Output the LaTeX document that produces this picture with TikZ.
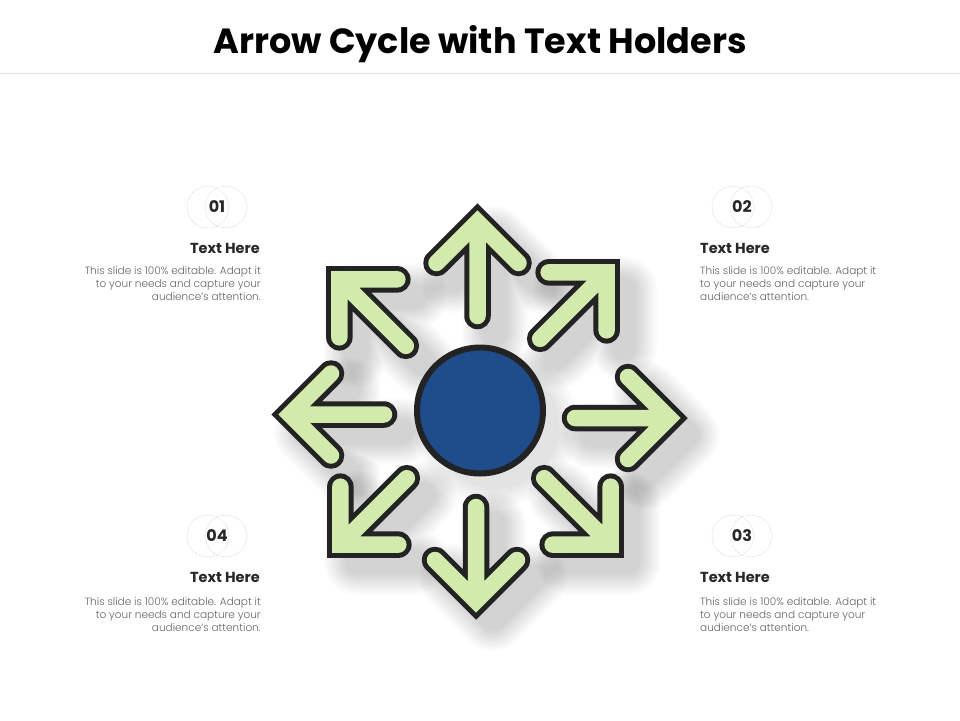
\documentclass[tikz,border=0pt]{standalone}
\usepackage{fontspec}
\setmainfont{Poppins}
\newfontfamily\lightfont{Poppins Light}
\usetikzlibrary{calc}
\definecolor{agreen}{RGB}{210,234,172}
\definecolor{aline}{RGB}{35,35,35}
\definecolor{ablue}{RGB}{31,77,139}
\definecolor{txtgrey}{RGB}{100,100,100}
\definecolor{headgrey}{RGB}{40,40,40}
\definecolor{ringgrey}{RGB}{205,205,205}
\definecolor{rulegrey}{RGB}{225,225,225}
\begin{document}
\begin{tikzpicture}[x=1pt,y=1pt,
  arrshadow/.pic={
    \foreach \w in {66,62,...,26}{
      \draw[line width=\w pt, black, opacity=0.014, line cap=round, line join=round]
        (95,0) -- (189,0) (148,41) -- (189,0) -- (148,-41);
    }
  },
  arrbody/.pic={
    \draw[line width=26.5pt, aline, line cap=round, line join=miter]
      (95,0) -- (184,0) (148,41) -- (189,0) -- (148,-41);
    \draw[line width=16.5pt, agreen, line cap=round, line join=miter]
      (95,0) -- (184,0) (148,41) -- (189,0) -- (148,-41);
  },
  ring/.style={circle, draw=ringgrey, densely dotted, line width=0.6pt, minimum size=42pt, inner sep=0pt},
  numtxt/.style={font=\fontsize{16}{18}\selectfont\bfseries, text=headgrey, inner sep=0pt},
  headtxt/.style={font=\fontsize{14.5}{17}\selectfont\bfseries, text=headgrey, inner sep=0pt},
  bodytxt/.style={font=\lightfont\fontsize{10.5}{13}\selectfont, text=txtgrey, inner sep=0pt},
]
\useasboundingbox (0,0) rectangle (960,-720);
\fill[white] (0,0) rectangle (960,-720);

% title
\node[font=\fontsize{35}{40}\selectfont\bfseries, anchor=base, inner sep=0pt] (title) at (480,-53) {Arrow Cycle with Text Holders};
\coordinate (ruleL) at (0,-73);
\coordinate (ruleR) at (960,-73);
\draw[rulegrey, line width=1pt] (ruleL) -- (ruleR);

% arrow centres
\coordinate (cU)  at (477.5,-411);
\coordinate (cD)  at (476,-412);
\coordinate (cL)  at (479,-414.5);
\coordinate (cR)  at (480,-418);
\coordinate (cNE) at (473,-406);
\coordinate (cSE) at (477,-411);
\coordinate (cSW) at (474,-411);
\coordinate (cNW) at (473,-413);

% shadows
\foreach \c/\a in {cU/90,cD/-90,cL/180,cR/0,cNE/45,cSE/-45,cSW/-135,cNW/135}{
  \pic[rotate=\a] at ([shift={(17,-17)}]\c) {arrshadow};
}
\foreach \w in {36,30,...,0}{
  \fill[black, opacity=0.014] (496,-426) circle (63+\w/2);
}

% arrows
\foreach \c/\a in {cU/90,cD/-90,cL/180,cR/0,cNE/45,cSE/-45,cSW/-135,cNW/135}{
  \pic[rotate=\a] at (\c) {arrbody};
}

% centre circle
\node[circle, fill=ablue, draw=aline, line width=6pt, minimum size=126pt, inner sep=0pt] (hub) at (480,-410.5) {};

% number badges
\node[ring] (r1a) at (208,-207) {};
\node[ring] (r1b) at (226,-207) {};
\node[numtxt] (n1) at (217,-207) {01};
\node[ring] (r2a) at (733,-207) {};
\node[ring] (r2b) at (751,-207) {};
\node[numtxt] (n2) at (742,-207) {02};
\node[ring] (r4a) at (208,-536) {};
\node[ring] (r4b) at (226,-536) {};
\node[numtxt] (n4) at (217,-536) {04};
\node[ring] (r3a) at (733,-536) {};
\node[ring] (r3b) at (751,-536) {};
\node[numtxt] (n3) at (742,-536) {03};

% headings
\node[headtxt, anchor=base east] (h1) at (260,-253) {Text Here};
\node[headtxt, anchor=base west] (h2) at (700,-253) {Text Here};
\node[headtxt, anchor=base east] (h4) at (260,-582) {Text Here};
\node[headtxt, anchor=base west] (h3) at (700,-582) {Text Here};

% body texts
\node[bodytxt, align=right, anchor=north east] (b1) at (261,-266) {This slide is 100\% editable. Adapt it\\to your needs and capture your\\audience’s attention.};
\node[bodytxt, align=left, anchor=north west] (b2) at (700,-266) {This slide is 100\% editable. Adapt it\\to your needs and capture your\\audience’s attention.};
\node[bodytxt, align=right, anchor=north east] (b4) at (261,-597) {This slide is 100\% editable. Adapt it\\to your needs and capture your\\audience’s attention.};
\node[bodytxt, align=left, anchor=north west] (b3) at (700,-597) {This slide is 100\% editable. Adapt it\\to your needs and capture your\\audience’s attention.};
\end{tikzpicture}
\end{document}
